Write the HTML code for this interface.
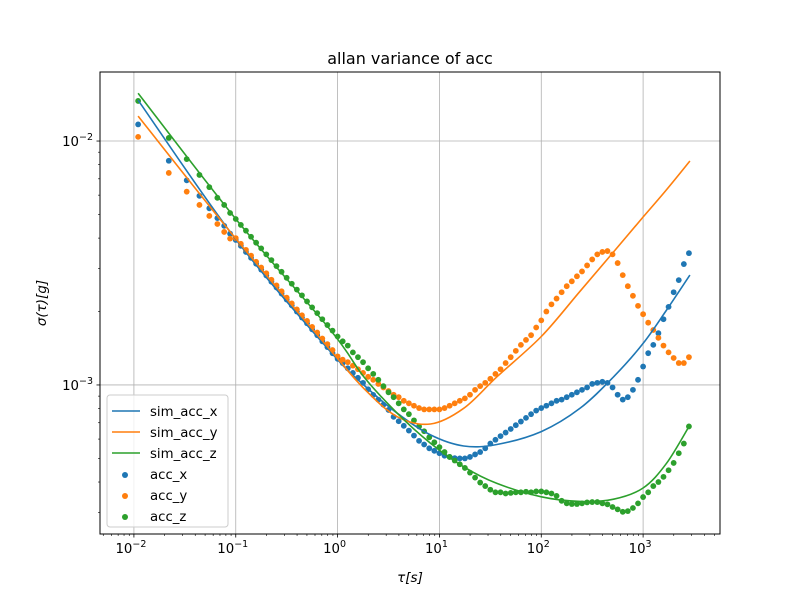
<!DOCTYPE html>
<html><head><meta charset="utf-8"><style>
body{margin:0;background:#fff;}
svg text{font-family:"DejaVu Sans","Liberation Sans",sans-serif;}
</style></head><body>
<svg id="chart" width="800" height="600" viewBox="0 0 800 600" xmlns="http://www.w3.org/2000/svg">
<rect width="800" height="600" fill="#fff"/>
<text x="410" y="64" font-size="16" text-anchor="middle">allan variance of acc</text>
<g id="grid"></g><g id="ticks"></g><g id="series"></g>
<rect x="100" y="72" width="620" height="462" fill="none" stroke="#000" stroke-width="1"/>
<text x="410" y="582" font-size="13.5" text-anchor="middle" font-style="italic">τ[s]</text>
<text transform="translate(46,303) rotate(-90)" font-size="13.5" text-anchor="middle" font-style="italic">σ(τ)[g]</text>
<g id="legend"></g>
</svg>
<script>
const tau=[0.011,0.022,0.033,0.044,0.055,0.066,0.077,0.088,
0.1,0.1122,0.1259,0.1413,0.1585,0.1778,0.1995,0.2239,0.2512,0.2818,0.3162,0.3548,0.3981,0.4467,0.5012,0.5623,0.631,0.7079,0.7943,0.8913,
1,1.122,1.259,1.413,1.585,1.778,1.995,2.239,2.512,2.818,3.162,3.548,3.981,4.467,5.012,5.623,6.31,7.079,7.943,8.913,
10,11.22,12.59,14.13,15.85,17.78,19.95,22.39,25.12,28.18,31.62,35.48,39.81,44.67,50.12,56.23,63.1,70.79,79.43,89.13,
100,112.2,125.9,141.3,158.5,177.8,199.5,223.9,251.2,281.8,316.2,354.8,398.1,446.7,501.2,562.3,631,707.9,794.3,891.3,
1000,1122,1259,1413,1585,1778,1995,2239,2512,2818];
const accX=[11.7,8.3,6.9,5.96,5.3,4.83,4.49,4.17,
3.93,3.72,3.51,3.32,3.14,2.97,2.81,2.65,2.51,2.37,2.24,2.12,2.00,1.89,1.79,1.69,1.60,1.51,1.43,1.35,
1.28,1.23,1.17,1.12,1.07,1.02,0.96,0.91,0.87,0.83,0.79,0.74,0.71,0.68,0.65,0.62,0.59,0.57,0.55,0.537,
0.525,0.513,0.507,0.501,0.50,0.50,0.507,0.519,0.531,0.55,0.575,0.596,0.617,0.638,0.66,0.684,0.708,0.733,0.759,0.785,
0.804,0.822,0.841,0.861,0.871,0.891,0.912,0.933,0.955,0.977,1.01,1.02,1.03,1.02,0.977,0.912,0.871,0.891,0.955,1.05,
1.19,1.35,1.46,1.63,1.86,2.09,2.40,2.69,3.13,3.47];
const accY=[10.4,7.4,6.2,5.47,4.93,4.57,4.24,3.98,
4.00,3.79,3.58,3.39,3.20,3.03,2.87,2.70,2.56,2.42,2.28,2.16,2.04,1.93,1.83,1.73,1.64,1.55,1.47,1.39,
1.31,1.27,1.24,1.20,1.16,1.12,1.08,1.05,1.01,0.977,0.944,0.912,0.891,0.861,0.841,0.822,0.804,0.794,0.794,0.794,
0.794,0.804,0.822,0.841,0.861,0.881,0.912,0.955,0.989,1.02,1.06,1.11,1.16,1.23,1.30,1.38,1.46,1.53,1.60,1.72,
1.84,2.00,2.14,2.26,2.40,2.54,2.66,2.79,2.92,3.09,3.27,3.43,3.51,3.54,3.43,3.16,2.82,2.54,2.32,2.11,
1.95,1.80,1.68,1.56,1.45,1.36,1.29,1.23,1.23,1.30];
const accZ=[14.6,10.3,8.43,7.26,6.47,5.85,5.47,5.07,
4.79,4.53,4.29,4.05,3.83,3.63,3.43,3.25,3.07,2.91,2.75,2.60,2.46,2.33,2.20,2.08,1.97,1.86,1.76,1.67,
1.58,1.51,1.45,1.36,1.30,1.24,1.17,1.11,1.05,0.989,0.933,0.891,0.841,0.794,0.759,0.716,0.676,0.646,0.610,0.582,
0.556,0.531,0.507,0.490,0.473,0.457,0.437,0.417,0.398,0.385,0.372,0.363,0.363,0.359,0.361,0.363,0.363,0.365,0.363,0.366,
0.366,0.363,0.359,0.351,0.335,0.327,0.325,0.325,0.327,0.330,0.331,0.331,0.327,0.324,0.316,0.309,0.302,0.304,0.313,0.327,
0.347,0.363,0.385,0.400,0.420,0.447,0.479,0.525,0.575,0.676];
const simTau=[0.011,0.1,0.85,1.81,3.85,8.17,17.3,36.7,100,240,513,1000,1700,2880];
const simX=[14.7,3.95,1.37,1.0,0.766,0.624,0.562,0.57,0.644,0.802,1.08,1.48,2.03,2.82];
const simY=[12.65,3.98,1.39,0.968,0.741,0.692,0.802,1.08,1.58,2.42,3.51,4.88,6.32,8.28];
const simZ=[15.7,4.79,1.68,1.08,0.766,0.577,0.462,0.395,0.348,0.333,0.340,0.378,0.478,0.686];
const xTicks=[-2,-1,0,1,2,3];
const yTicks=[-3,-2];
const SCALE=1e-3;
const X0=100,X1=720,Y0=72,Y1=534,LXmin=-2.333,LXmax=3.755,LYmin=-3.611,LYmax=-1.717;
const sx=t=>X0+(Math.log10(t)-LXmin)/(LXmax-LXmin)*(X1-X0);
const sy=v=>Y1-(Math.log10(v)-LYmin)/(LYmax-LYmin)*(Y1-Y0);
const NS="http://www.w3.org/2000/svg";
function mk(tag,attrs,parent){const e=document.createElementNS(NS,tag);for(const k in attrs)e.setAttribute(k,attrs[k]);parent.appendChild(e);return e;}
const grid=document.getElementById('grid'),ticks=document.getElementById('ticks'),series=document.getElementById('series'),legend=document.getElementById('legend');
xTicks.forEach(p=>{const x=sx(Math.pow(10,p));
 const g=mk('line',{x1:x,x2:x,y1:Y0,y2:Y1,stroke:'#b0b0b0','stroke-width':0.8},grid);
 
 
 mk('line',{x1:x,x2:x,y1:Y1,y2:Y1+3.5,stroke:'#000','stroke-width':0.8},ticks);
 const t=mk('text',{x:x-3,y:Y1+19,'font-size':13.3,'text-anchor':'middle'},ticks);
 
 
 t.innerHTML='10<tspan font-size="9.5" dy="-6">'+(p<0?'−'+(-p):p)+'</tspan>';
});
for(let p=-3;p<=3;p++)for(let m=2;m<=9;m++){const v=m*Math.pow(10,p);const x=sx(v);if(x<X0||x>X1)continue;mk('line',{x1:x,x2:x,y1:Y1,y2:Y1+2,stroke:'#000','stroke-width':0.6},ticks);}
yTicks.forEach(p=>{const y=sy(Math.pow(10,p));
 const g=mk('line',{x1:X0,x2:X1,y1:y,y2:y,stroke:'#b0b0b0','stroke-width':0.8},grid);
 
 
 mk('line',{x1:X0-3.5,x2:X0,y1:y,y2:y,stroke:'#000','stroke-width':0.8},ticks);
 const t=mk('text',{x:X0-7,y:y+5,'font-size':13.3,'text-anchor':'end'},ticks);
 
 
 t.innerHTML='10<tspan font-size="9.5" dy="-6">−'+(-p)+'</tspan>';
});
for(let p=-4;p<=-2;p++)for(let m=2;m<=9;m++){const v=m*Math.pow(10,p);const y=sy(v);if(y<Y0||y>Y1)continue;mk('line',{x1:X0-2,x2:X0,y1:y,y2:y,stroke:'#000','stroke-width':0.6},ticks);}
const cols=['#1f77b4','#ff7f0e','#2ca02c'];
[accX,accY,accZ].forEach((arr,i)=>{
 const g=mk('g',{},series);
 
 
 arr.forEach((v,j)=>{const c=mk('circle',{cx:sx(tau[j]),cy:sy(v*SCALE),r:2.9,fill:cols[i]},g);
  
  });
});
function smoothPath(pts){
 let d='M'+pts[0][0].toFixed(1)+','+pts[0][1].toFixed(1);
 for(let i=0;i<pts.length-1;i++){
  const p0=pts[Math.max(0,i-1)],p1=pts[i],p2=pts[i+1],p3=pts[Math.min(pts.length-1,i+2)];
  const c1=[p1[0]+(p2[0]-p0[0])/6,p1[1]+(p2[1]-p0[1])/6];
  const c2=[p2[0]-(p3[0]-p1[0])/6,p2[1]-(p3[1]-p1[1])/6];
  d+='C'+c1[0].toFixed(1)+','+c1[1].toFixed(1)+' '+c2[0].toFixed(1)+','+c2[1].toFixed(1)+' '+p2[0].toFixed(1)+','+p2[1].toFixed(1);
 }
 return d;
}
[simX,simY,simZ].forEach((arr,i)=>{
 const pts=arr.map((v,j)=>[sx(simTau[j]),sy(v*SCALE)]);
 const p=mk('path',{d:smoothPath(pts),fill:'none',stroke:cols[i],'stroke-width':1.6,'stroke-linejoin':'round'},series);
 
 
});
const lb=mk('rect',{x:107,y:395,width:121,height:132,rx:3,fill:'#fff','fill-opacity':0.8,stroke:'#cccccc'},legend);


const names=['sim_acc_x','sim_acc_y','sim_acc_z','acc_x','acc_y','acc_z'];
names.forEach((n,i)=>{const y=411+i*21;const c=cols[i%3];
 const g=mk('g',{},legend);
 
 
 if(i<3)mk('line',{x1:112,x2:140,y1:y,y2:y,stroke:c,'stroke-width':1.6},g);
 else mk('circle',{cx:125,cy:y+1,r:3,fill:c},g);
 const t=mk('text',{x:150,y:y+5,'font-size':13.3},g);t.textContent=n;
});
</script>
</body></html>
